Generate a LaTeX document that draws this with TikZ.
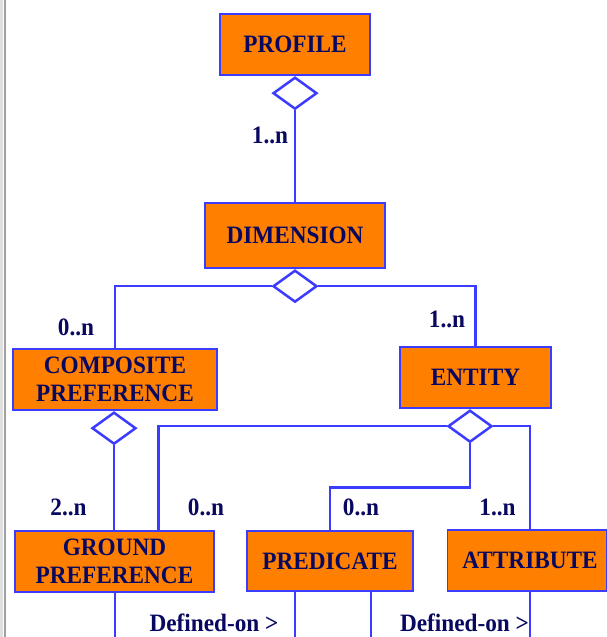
\documentclass[tikz,border=0pt]{standalone}
\usepackage{fontspec}
\setmainfont{Liberation Serif}
\newfontfamily\diagfont{Liberation Serif}[FakeStretch=0.93]
\usetikzlibrary{calc,shapes.geometric}

\definecolor{boxorange}{RGB}{255,128,0}
\definecolor{boxblue}{RGB}{60,60,255}
\definecolor{txtnavy}{RGB}{8,8,96}
\definecolor{rimgray}{RGB}{160,160,160}

\begin{document}
\begin{tikzpicture}[x=1pt,y=-1pt,
	class/.style={draw=boxblue,fill=boxorange,line width=1.9pt,minimum height=61pt,inner sep=0pt,align=center,text=txtnavy,font=\diagfont\bfseries\fontsize{25}{28}\selectfont},
	agg/.style={shape=diamond,draw=boxblue,fill=white,line width=2.5pt,minimum width=44pt,minimum height=32pt,inner sep=0pt},
	link/.style={draw=boxblue,line width=2.5pt},
	card/.style={anchor=base,inner sep=0pt,text=txtnavy,font=\diagfont\bfseries\fontsize{25}{28}\selectfont}]
		\def \ybot {660}
		
		%frame
		\useasboundingbox (0,0) rectangle (607,637);
		\clip (0,0) rectangle (607,637);
		\draw [gray!25,line width=3pt] (1.5,0) -- (1.5,637);
		\draw [rimgray,line width=1.6pt] (4.8,0) -- (4.8,637);
		
		%classes
		\node[class,minimum width=150pt] (profile) at (295,44.5) {PROFILE};
		\node[class,minimum width=180pt,minimum height=65pt] (dimension) at (295,235.5) {DIMENSION};
		\node[class,minimum width=204pt] (composite) at (115,379.5) {COMPOSITE\\PREFERENCE};
		\node[class,minimum width=151pt] (entity) at (475.5,377.5) {ENTITY};
		\node[class,minimum width=199pt] (ground) at (114.5,561.5) {GROUND\\PREFERENCE};
		\node[class,minimum width=166pt,minimum height=60pt] (predicate) at (330,561) {PREDICATE};
		\node[class,minimum width=159pt] (attribute) at (527,560.5) {\hspace*{6pt}ATTRIBUTE};
		
		%aggregation diamonds
		\node[agg,anchor=north] (dprofile) at (profile.south) {};
		\node[agg,anchor=north] (ddim) at (dimension.south) {};
		\node[agg,anchor=north] (dcomp) at ($(composite.south)+(-1,0)$) {};
		\node[agg,anchor=north] (dent) at ($(entity.south)+(-5.5,0)$) {};
		
		%links
		\draw[link] (dprofile.south) -- (dimension.north);
		\draw[link] (ddim.west) -| (composite.north);
		\draw[link] (ddim.east) -| (entity.north);
		\draw[link] (dcomp.south) -- (dcomp.south |- ground.north);
		\draw[link] (dent.west) -| ($(ground.north)+(44,0)$);
		\draw[link] (dent.south) -- ++(0,44) -| (predicate.north);
		\draw[link] (dent.east) -| ($(attribute.north)+(3,0)$);
		
		%links going on below
		\coordinate (gbot) at (115,\ybot);
		\coordinate (pbotl) at (295,\ybot);
		\coordinate (pbotr) at (371,\ybot);
		\coordinate (abot) at (530,\ybot);
		\draw[link] (ground.south -| gbot) -- (gbot);
		\draw[link] (predicate.south -| pbotl) -- (pbotl);
		\draw[link] (predicate.south -| pbotr) -- (pbotr);
		\draw[link] (attribute.south -| abot) -- (abot);
		
		%cardinalities
		\node[card] (c1) at (270,143) {1..n};
		\node[card] (c2) at (76,335) {0..n};
		\node[card] (c3) at (447,327) {1..n};
		\node[card] (c4) at (68.5,515) {2..n};
		\node[card] (c5) at (206,515) {0..n};
		\node[card] (c6) at (361,515) {0..n};
		\node[card] (c7) at (497.5,515) {1..n};
		
		%roles
		\node[card] (r1) at (214,631) {Defined-on >};
		\node[card] (r2) at (464.5,631) {Defined-on >};
\end{tikzpicture}
\end{document}
